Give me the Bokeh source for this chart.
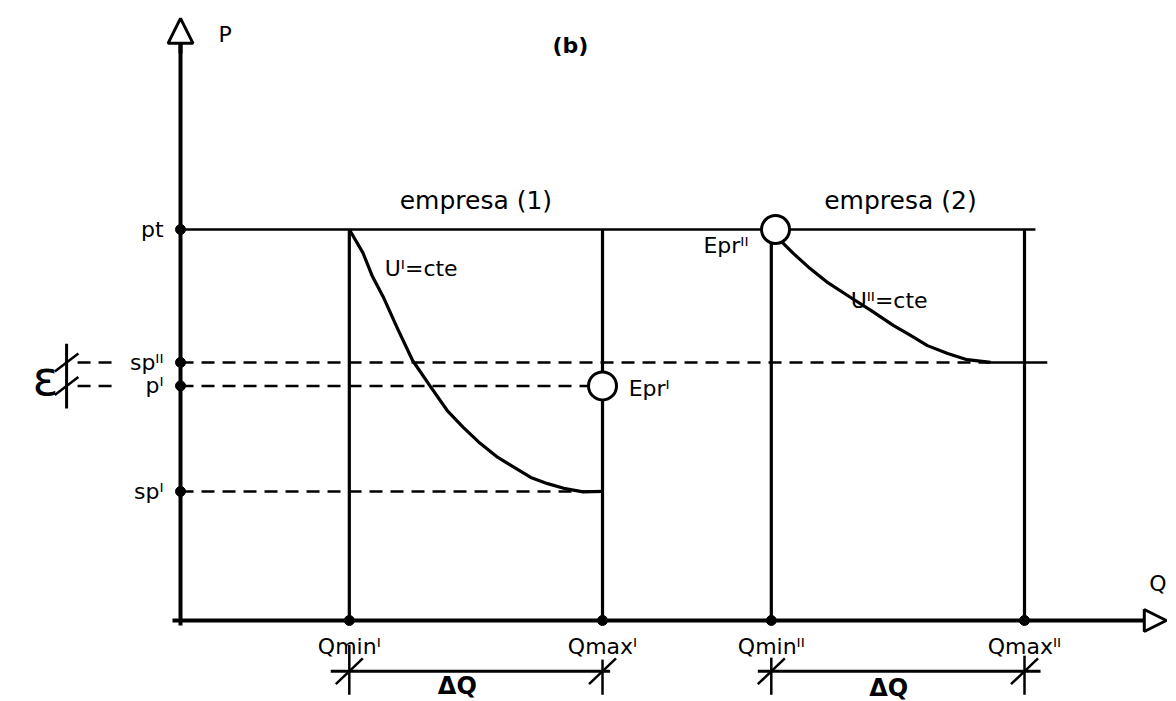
from bokeh.plotting import figure
from bokeh.models import Range1d, FixedTicker, Arrow, NormalHead
from bokeh.embed import file_html
from bokeh.resources import INLINE
from bokeh.core.properties import value

# ---------------- data ----------------
q_labels = ["Qminᴵ", "Qmaxᴵ", "Qminᴵᴵ", "Qmaxᴵᴵ"]
q_values = [2.0, 5.0, 7.0, 10.0]
p_labels = ["pt", "spᴵᴵ", "pᴵ", "spᴵ"]
p_values = [10.0, 6.6, 6.0, 3.3]

curve1_q = [2.0, 2.16, 2.27, 2.41, 2.57, 2.75, 2.96, 3.16, 3.35, 3.55, 3.76, 4.15, 4.35, 4.54, 4.77, 5.0]
curve1_p = [10.0, 9.41, 8.82, 8.24, 7.47, 6.65, 5.99, 5.37, 4.94, 4.53, 4.17, 3.66, 3.50, 3.38, 3.29, 3.3]
curve2_q = [7.05, 7.13, 7.26, 7.46, 7.67, 7.94, 8.18, 8.45, 8.65, 8.85, 9.09, 9.32, 9.60]
curve2_p = [10.0, 9.67, 9.39, 9.00, 8.64, 8.26, 7.93, 7.54, 7.29, 7.03, 6.83, 6.67, 6.60]

eq_q = [5.0, 7.05]
eq_p = [6.0, 10.0]
eq_labels = ["Eprᴵ", "Eprᴵᴵ"]

FONT = "DejaVu Sans"

p = figure(width=1176, height=701,
           x_range=Range1d(-2.133, 11.801), y_range=Range1d(-2.072, 15.857),
           output_backend="svg", toolbar_location=None, min_border=0)
p.outline_line_color = None
p.grid.visible = False
p.background_fill_color = "white"
p.border_fill_color = "white"

# axes drawn through origin
p.xaxis.fixed_location = 0
p.yaxis.fixed_location = 0
p.xaxis.bounds = (-0.1, 11.45)
p.yaxis.bounds = (-0.13, 14.8)
p.xaxis.ticker = FixedTicker(ticks=q_values)
p.yaxis.ticker = FixedTicker(ticks=p_values)
p.xaxis.major_label_overrides = dict(zip(q_values, q_labels))
p.yaxis.major_label_overrides = dict(zip(p_values, p_labels))
for ax in (p.xaxis[0], p.yaxis[0]):
    ax.axis_line_width = 4
    ax.axis_line_color = "black"
    ax.major_tick_in = 0
    ax.major_tick_out = 0
    ax.minor_tick_in = 0
    ax.minor_tick_out = 0
    ax.major_label_text_font = FONT
    ax.major_label_text_font_size = "22px"
    ax.major_label_text_color = "black"
p.yaxis.major_label_standoff = 17
p.xaxis.major_label_standoff = 14

# dots on axes
p.scatter([0] * len(p_values), p_values, size=10, color="black")
p.scatter(q_values, [0] * len(q_values), size=10, color="black")

pt = p_values[0]
sp2 = p_values[1]
p1 = p_values[2]
sp1 = p_values[3]

# solid structure
p.segment(x0=q_values, y0=[0] * 4, x1=q_values, y1=[pt] * 4, line_width=3.2, color="black")
p.segment(x0=[0], y0=[pt], x1=[10.13], y1=[pt], line_width=2.6, color="black")
p.segment(x0=[curve2_q[-1]], y0=[sp2], x1=[10.27], y1=[sp2], line_width=2.6, color="black")

# dashed guides
p.segment(x0=[0, 0, 0, -1.22, -1.22], y0=[sp2, p1, sp1, sp2, p1],
          x1=[curve2_q[-1], q_values[1], q_values[1], -0.73, -0.73], y1=[sp2, p1, sp1, sp2, p1],
          line_width=2.5, color="black", line_dash="13 8")

# utility curves
p.line(curve1_q, curve1_p, line_width=3.2, color="black", line_join="round")
p.line(curve2_q, curve2_p, line_width=3.2, color="black", line_join="round")

# equilibrium circles
p.scatter(eq_q, eq_p, size=28, fill_color="white", line_color="black", line_width=3)

# arrows
p.add_layout(Arrow(end=NormalHead(size=25, fill_color="white", line_color="black", line_width=3),
                   x_start=0, y_start=14.5, x_end=0, y_end=15.4, line_width=4, line_color="black"))
p.add_layout(Arrow(end=NormalHead(size=22, fill_color="white", line_color="black", line_width=3),
                   x_start=11.2, y_start=0, x_end=11.68, y_end=0, line_width=3, line_color="black"))

# epsilon marker
p.segment(x0=[-1.35], y0=[5.42], x1=[-1.35], y1=[7.08], line_width=3, color="black")
p.segment(x0=[-1.49, -1.49], y0=[sp2 - 0.23, p1 - 0.23], x1=[-1.21, -1.21], y1=[sp2 + 0.23, p1 + 0.23],
          line_width=2.5, color="black")
p.text([-1.6], [6.2], text=["ε"], text_font=value(FONT), text_font_size="48px",
       text_align="center", text_baseline="middle", text_color="black")

# delta Q measures
dq_y = -1.30
p.segment(x0=[1.78, 6.84], y0=[dq_y, dq_y], x1=[5.09, 10.19], y1=[dq_y, dq_y], line_width=3, color="black")
p.segment(x0=q_values, y0=[-0.62, -1.0, -0.95, -0.9], x1=q_values, y1=[-1.9] * 4, line_width=2.5, color="black")
p.segment(x0=[q - 0.16 for q in q_values], y0=[dq_y - 0.33] * 4,
          x1=[q + 0.16 for q in q_values], y1=[dq_y + 0.33] * 4, line_width=2.5, color="black")
p.text([3.28, 8.39], [-1.68, -1.72], text=["ΔQ", "ΔQ"], text_font=value(FONT), text_font_size="24px",
       text_font_style="bold", text_align="center", text_baseline="middle", text_color="black")

# annotation texts
p.text([0.45], [15.0], text=["P"], text_font=value(FONT), text_font_size="22px",
       text_align="left", text_baseline="middle", text_color="black")
p.text([11.58], [0.95], text=["Q"], text_font=value(FONT), text_font_size="22px",
       text_align="center", text_baseline="middle", text_color="black")
p.text([4.62], [14.7], text=["(b)"], text_font=value(FONT), text_font_size="22px",
       text_font_style="bold", text_align="center", text_baseline="middle", text_color="black")
p.text([3.5, 8.53], [10.74, 10.74], text=["empresa (1)", "empresa (2)"], text_font=value(FONT),
       text_font_size="25px", text_align="center", text_baseline="middle", text_color="black")
p.text([2.42, 7.94], [9.0, 8.18], text=["Uᴵ=cte", "Uᴵᴵ=cte"], text_font=value(FONT),
       text_font_size="22px", text_align="left", text_baseline="middle", text_color="black")
p.text([eq_q[0] + 0.31, eq_q[1] - 0.32], [eq_p[0] - 0.07, eq_p[1] - 0.41], text=eq_labels,
       text_font=value(FONT), text_font_size="22px", text_align=["left", "right"],
       text_baseline="middle", text_color="black")

open("out.html", "w").write(file_html(p, INLINE))
